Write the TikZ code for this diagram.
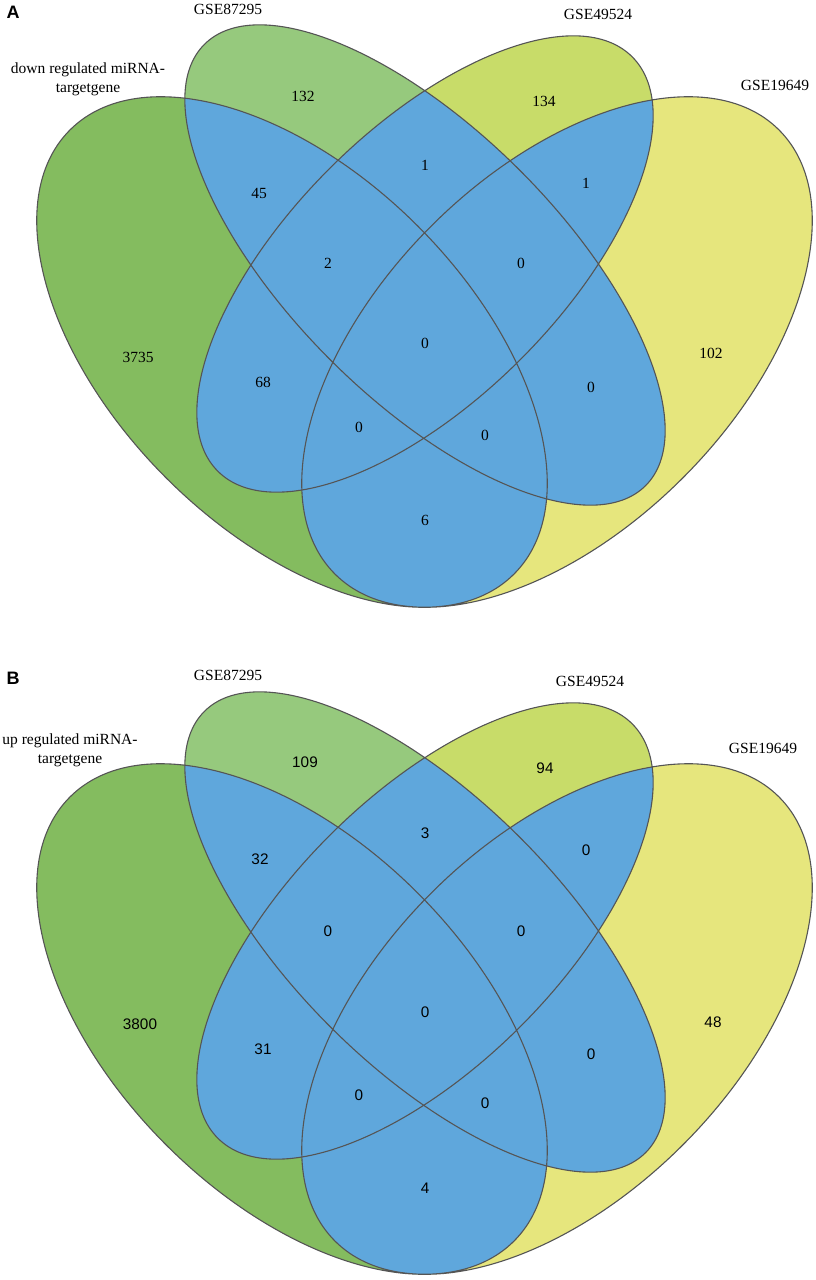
\documentclass[tikz,border=0pt]{standalone}
\usepackage{fontspec}
\setmainfont{Liberation Serif}
\newfontfamily\arialLike{Liberation Sans}
\usepackage{xcolor}
\definecolor{setOneGreen}{RGB}{132,188,95}
\definecolor{setTwoGreen}{RGB}{150,201,125}
\definecolor{setThreeLime}{RGB}{200,220,105}
\definecolor{setFourYellow}{RGB}{230,230,125}
\definecolor{overlapBlue}{RGB}{95,167,220}
\definecolor{edgeGrey}{RGB}{85,85,85}
\newcommand{\panelGap}{667}
\newcommand{\ellOne}{(292,352) ellipse [x radius=314, y radius=178, rotate=-45]}
\newcommand{\ellTwo}{(425,265) ellipse [x radius=312, y radius=134, rotate=-45]}
\newcommand{\ellThree}{(425,264) ellipse [x radius=293, y radius=135, rotate=45]}
\newcommand{\ellFour}{(557,352) ellipse [x radius=314, y radius=178, rotate=45]}

\begin{document}
\begin{tikzpicture}[x=1pt, y=-1pt,
    vennEdge/.style={draw=edgeGrey, line width=1.1pt},
    panelTag/.style={font=\arialLike\bfseries\fontsize{18}{20}\selectfont, inner sep=0pt},
    setName/.style={font=\fontsize{15.5}{19}\selectfont, inner sep=0pt},
    countA/.style={font=\fontsize{15.5}{19}\selectfont, inner sep=0pt},
    countB/.style={font=\arialLike\fontsize{15.3}{19}\selectfont, inner sep=0pt}]

\useasboundingbox (0,0) rectangle (816,1280);

% both panels have the same four ellipses
\foreach \panelShift in {0,\panelGap} {
  \begin{scope}[shift={(0,\panelShift)}]
    \fill[setOneGreen] \ellOne;
    \fill[setTwoGreen] \ellTwo;
    \fill[setThreeLime] \ellThree;
    \fill[setFourYellow] \ellFour;
    % every overlap is blue
    \begin{scope}
      \clip \ellOne;
      \fill[overlapBlue] \ellTwo;
      \fill[overlapBlue] \ellThree;
      \fill[overlapBlue] \ellFour;
    \end{scope}
    \begin{scope}
      \clip \ellTwo;
      \fill[overlapBlue] \ellThree;
      \fill[overlapBlue] \ellFour;
    \end{scope}
    \begin{scope}
      \clip \ellThree;
      \fill[overlapBlue] \ellFour;
    \end{scope}
    \draw[vennEdge] \ellOne \ellTwo \ellThree \ellFour;
  \end{scope}
}

% panel A
\node[panelTag] (tagA) at (13,12) {A};
\node[setName] (nameA87295) at (228,9) {GSE87295};
\node[setName] (nameA49524) at (598,14) {GSE49524};
\node[setName] (nameA19649) at (775,85) {GSE19649};
\node[setName, align=center] (nameAdown) at (88,79) {down regulated miRNA-\\targetgene};
\node[countA] (a0100) at (303,96) {132};
\node[countA] (a0010) at (544,101) {134};
\node[countA] (a1100) at (259,193) {45};
\node[countA] (a0110) at (425,165) {1};
\node[countA] (a0011) at (586,183) {1};
\node[countA] (a1110) at (328,263) {2};
\node[countA] (a0111) at (521,263) {0};
\node[countA] (a1000) at (138,357) {3735};
\node[countA] (a1111) at (425,343) {0};
\node[countA] (a0001) at (711,353) {102};
\node[countA] (a1010) at (263,382) {68};
\node[countA] (a0101) at (591,387) {0};
\node[countA] (a1011) at (359,427) {0};
\node[countA] (a1101) at (485,435) {0};
\node[countA] (a1001) at (425,520) {6};

% panel B
\node[panelTag] (tagB) at (13,678) {B};
\node[setName] (nameB87295) at (228,675) {GSE87295};
\node[setName] (nameB49524) at (590,681) {GSE49524};
\node[setName] (nameB19649) at (763,748) {GSE19649};
\node[setName, align=center] (nameBup) at (70,750) {up regulated miRNA-\\targetgene};
\node[countB] (b0100) at (305,762) {109};
\node[countB] (b0010) at (545,768) {94};
\node[countB] (b1100) at (260,859) {32};
\node[countB] (b0110) at (425,833) {3};
\node[countB] (b0011) at (586,850) {0};
\node[countB] (b1110) at (328,931) {0};
\node[countB] (b0111) at (521,931) {0};
\node[countB] (b1000) at (140,1024) {3800};
\node[countB] (b1111) at (425,1012) {0};
\node[countB] (b0001) at (713,1022) {48};
\node[countB] (b1010) at (263,1049) {31};
\node[countB] (b0101) at (591,1054) {0};
\node[countB] (b1011) at (359,1095) {0};
\node[countB] (b1101) at (485,1103) {0};
\node[countB] (b1001) at (425,1188) {4};
\end{tikzpicture}
\end{document}
